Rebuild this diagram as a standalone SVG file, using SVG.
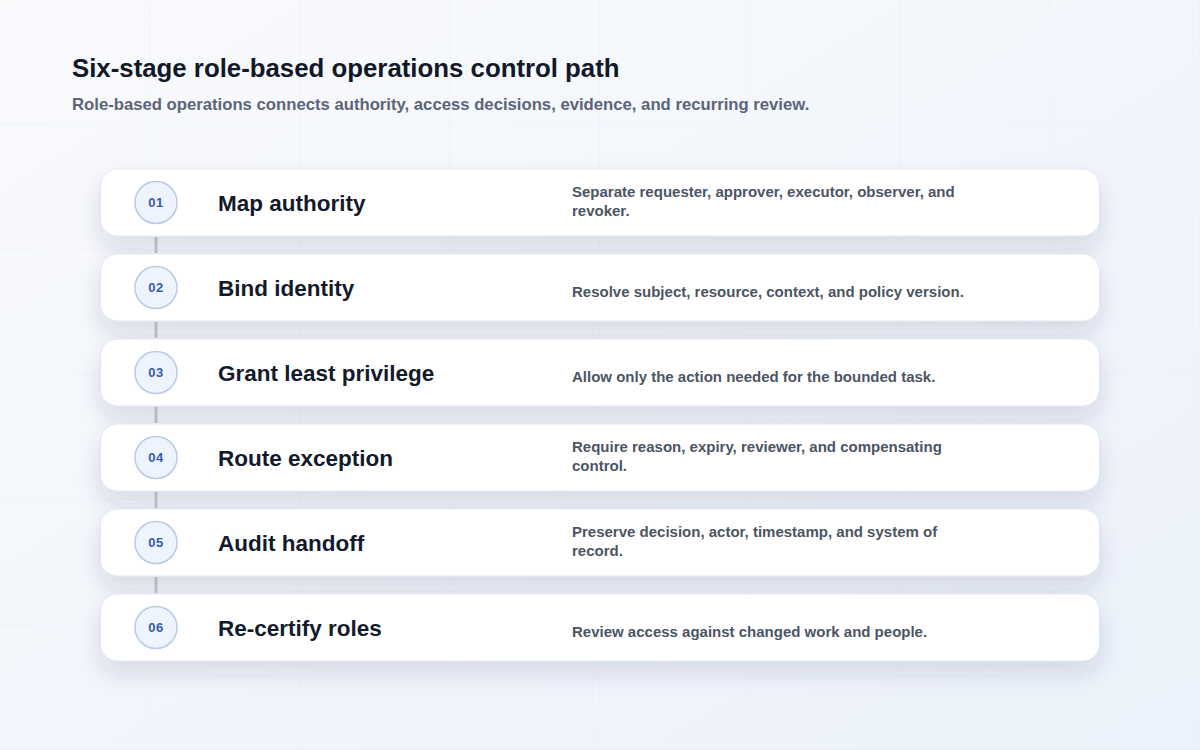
<svg xmlns="http://www.w3.org/2000/svg" width="1200" height="750" viewBox="0 0 1200 750">
<defs>
<linearGradient id="bg" x1="0" y1="0" x2="1" y2="1">
<stop offset="0" stop-color="#f9fafc"/>
<stop offset="1" stop-color="#ecf2fb"/>
</linearGradient>
<pattern id="grid" width="150" height="125" patternUnits="userSpaceOnUse">
<path d="M150 0V125M0 125H150" fill="none" stroke="#e3e8f0" stroke-width="1" opacity="0.6"/>
</pattern>
<filter id="sh" x="-10%" y="-50%" width="120%" height="230%">
<feDropShadow dx="0" dy="12" stdDeviation="11" flood-color="#26345c" flood-opacity="0.14"/>
</filter>
<style>
.title{font-family:"Liberation Sans",Arial,sans-serif;font-weight:700;font-size:25.8px;fill:#111827}
.sub{font-family:"Liberation Sans",Arial,sans-serif;font-weight:700;font-size:16.7px;fill:#5b6577}
.card{fill:#ffffff;stroke:#e2e6ee;stroke-width:1;filter:url(#sh)}
.badge{fill:#eef4fd;stroke:#b8cae6;stroke-width:1.5}
.num{font-family:"Liberation Sans",Arial,sans-serif;font-weight:700;font-size:13px;fill:#3a5aa8;text-anchor:middle;letter-spacing:0.5px}
.name{font-family:"Liberation Sans",Arial,sans-serif;font-weight:700;font-size:22.5px;fill:#131a2b}
.desc{font-family:"Liberation Sans",Arial,sans-serif;font-weight:700;font-size:15px;fill:#4b5563}
.conn{stroke:#c4c8d0;stroke-width:3;fill:none}
</style>
</defs>
<rect width="1200" height="750" fill="url(#bg)"/>
<rect width="1200" height="750" fill="url(#grid)"/>
<text class="title" x="72" y="77">Six-stage role-based operations control path</text>
<text class="sub" x="72" y="110">Role-based operations connects authority, access decisions, evidence, and recurring review.</text>
<g id="connectors">
<line class="conn" x1="156" y1="237" x2="156" y2="253"/>
<line class="conn" x1="156" y1="322" x2="156" y2="338"/>
<line class="conn" x1="156" y1="407" x2="156" y2="423"/>
<line class="conn" x1="156" y1="492" x2="156" y2="508"/>
<line class="conn" x1="156" y1="577" x2="156" y2="593"/>
</g>
<g id="stage-01">
<rect class="card" x="100.5" y="169" width="999" height="67" rx="17"/>
<circle class="badge" cx="156" cy="202.5" r="21"/>
<text class="num" x="156" y="207">01</text>
<text class="name" x="218" y="211">Map authority</text>
<text class="desc" x="572" y="197">Separate requester, approver, executor, observer, and</text>
<text class="desc" x="572" y="216">revoker.</text>
</g>
<g id="stage-02">
<rect class="card" x="100.5" y="254" width="999" height="67" rx="17"/>
<circle class="badge" cx="156" cy="287.5" r="21"/>
<text class="num" x="156" y="292">02</text>
<text class="name" x="218" y="296">Bind identity</text>
<text class="desc" x="572" y="297">Resolve subject, resource, context, and policy version.</text>
</g>
<g id="stage-03">
<rect class="card" x="100.5" y="339" width="999" height="67" rx="17"/>
<circle class="badge" cx="156" cy="372.5" r="21"/>
<text class="num" x="156" y="377">03</text>
<text class="name" x="218" y="381">Grant least privilege</text>
<text class="desc" x="572" y="382">Allow only the action needed for the bounded task.</text>
</g>
<g id="stage-04">
<rect class="card" x="100.5" y="424" width="999" height="67" rx="17"/>
<circle class="badge" cx="156" cy="457.5" r="21"/>
<text class="num" x="156" y="462">04</text>
<text class="name" x="218" y="466">Route exception</text>
<text class="desc" x="572" y="452">Require reason, expiry, reviewer, and compensating</text>
<text class="desc" x="572" y="471">control.</text>
</g>
<g id="stage-05">
<rect class="card" x="100.5" y="509" width="999" height="67" rx="17"/>
<circle class="badge" cx="156" cy="542.5" r="21"/>
<text class="num" x="156" y="547">05</text>
<text class="name" x="218" y="551">Audit handoff</text>
<text class="desc" x="572" y="537">Preserve decision, actor, timestamp, and system of</text>
<text class="desc" x="572" y="556">record.</text>
</g>
<g id="stage-06">
<rect class="card" x="100.5" y="594" width="999" height="67" rx="17"/>
<circle class="badge" cx="156" cy="627.5" r="21"/>
<text class="num" x="156" y="632">06</text>
<text class="name" x="218" y="636">Re-certify roles</text>
<text class="desc" x="572" y="637">Review access against changed work and people.</text>
</g>
</svg>
